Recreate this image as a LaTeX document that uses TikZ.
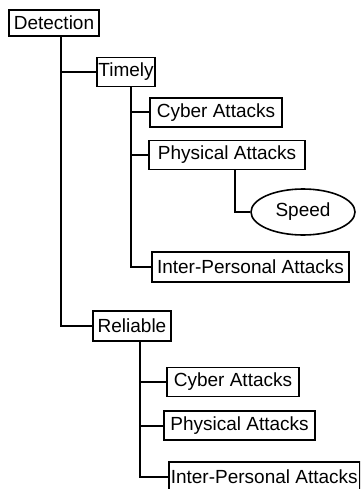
\documentclass[tikz,border=0pt]{standalone}
\usepackage{fontspec}
\setmainfont{Liberation Sans}
\usetikzlibrary{shapes.geometric}
\begin{document}
\begin{tikzpicture}[x=1pt,y=-1pt,
  box/.style={draw, line width=1.6pt, rectangle, inner sep=0pt, minimum height=28pt, font=\fontsize{19}{22}\selectfont},
  oval/.style={draw, line width=1.6pt, ellipse, inner sep=0pt, minimum width=104pt, minimum height=46pt, font=\fontsize{19}{22}\selectfont},
  conn/.style={draw, line width=2pt}]
\useasboundingbox (0,0) rectangle (360,489);
\clip (0,0) rectangle (360,489);
\node[box, minimum width=90pt, minimum height=26pt] (det) at (54,23) {Detection};
\node[box, minimum width=58pt, minimum height=29pt] (tim) at (126,72) {Timely};
\node[box, minimum width=132pt, minimum height=29pt] (cy1) at (216,112.5) {Cyber Attacks};
\node[box, minimum width=156pt, minimum height=29pt] (ph1) at (227,155) {Physical Attacks};
\node[oval] (spd) at (303,212) {Speed};
\node[box, minimum width=197pt, minimum height=30pt] (ip1) at (250.5,267) {Inter-Personal Attacks};
\node[box, minimum width=78pt, minimum height=30pt] (rel) at (132,326) {Reliable};
\node[box, minimum width=132pt, minimum height=29pt] (cy2) at (233,382) {Cyber Attacks};
\node[box, minimum width=151pt, minimum height=29pt] (ph2) at (239.5,425.5) {Physical Attacks};
\node[box, minimum height=30pt, inner xsep=2pt, anchor=west] (ip2) at (168,477) {Inter-Personal Attacks};
% connectors
\coordinate (dT) at (61,0);
\coordinate (tT) at (131,0);
\coordinate (pT) at (235,0);
\coordinate (rT) at (140,0);
\draw[conn] (det.south -| dT) |- (tim.west);
\draw[conn] (det.south -| dT) |- (rel.west);
\draw[conn] (tim.south -| tT) |- (cy1.west);
\draw[conn] (tim.south -| tT) |- (ph1.west);
\draw[conn] (tim.south -| tT) |- (ip1.west);
\draw[conn] (ph1.south -| pT) |- (spd.west);
\draw[conn] (rel.south -| rT) |- (cy2.west);
\draw[conn] (rel.south -| rT) |- (ph2.west);
\draw[conn] (rel.south -| rT) |- (ip2.west);
\end{tikzpicture}
\end{document}
